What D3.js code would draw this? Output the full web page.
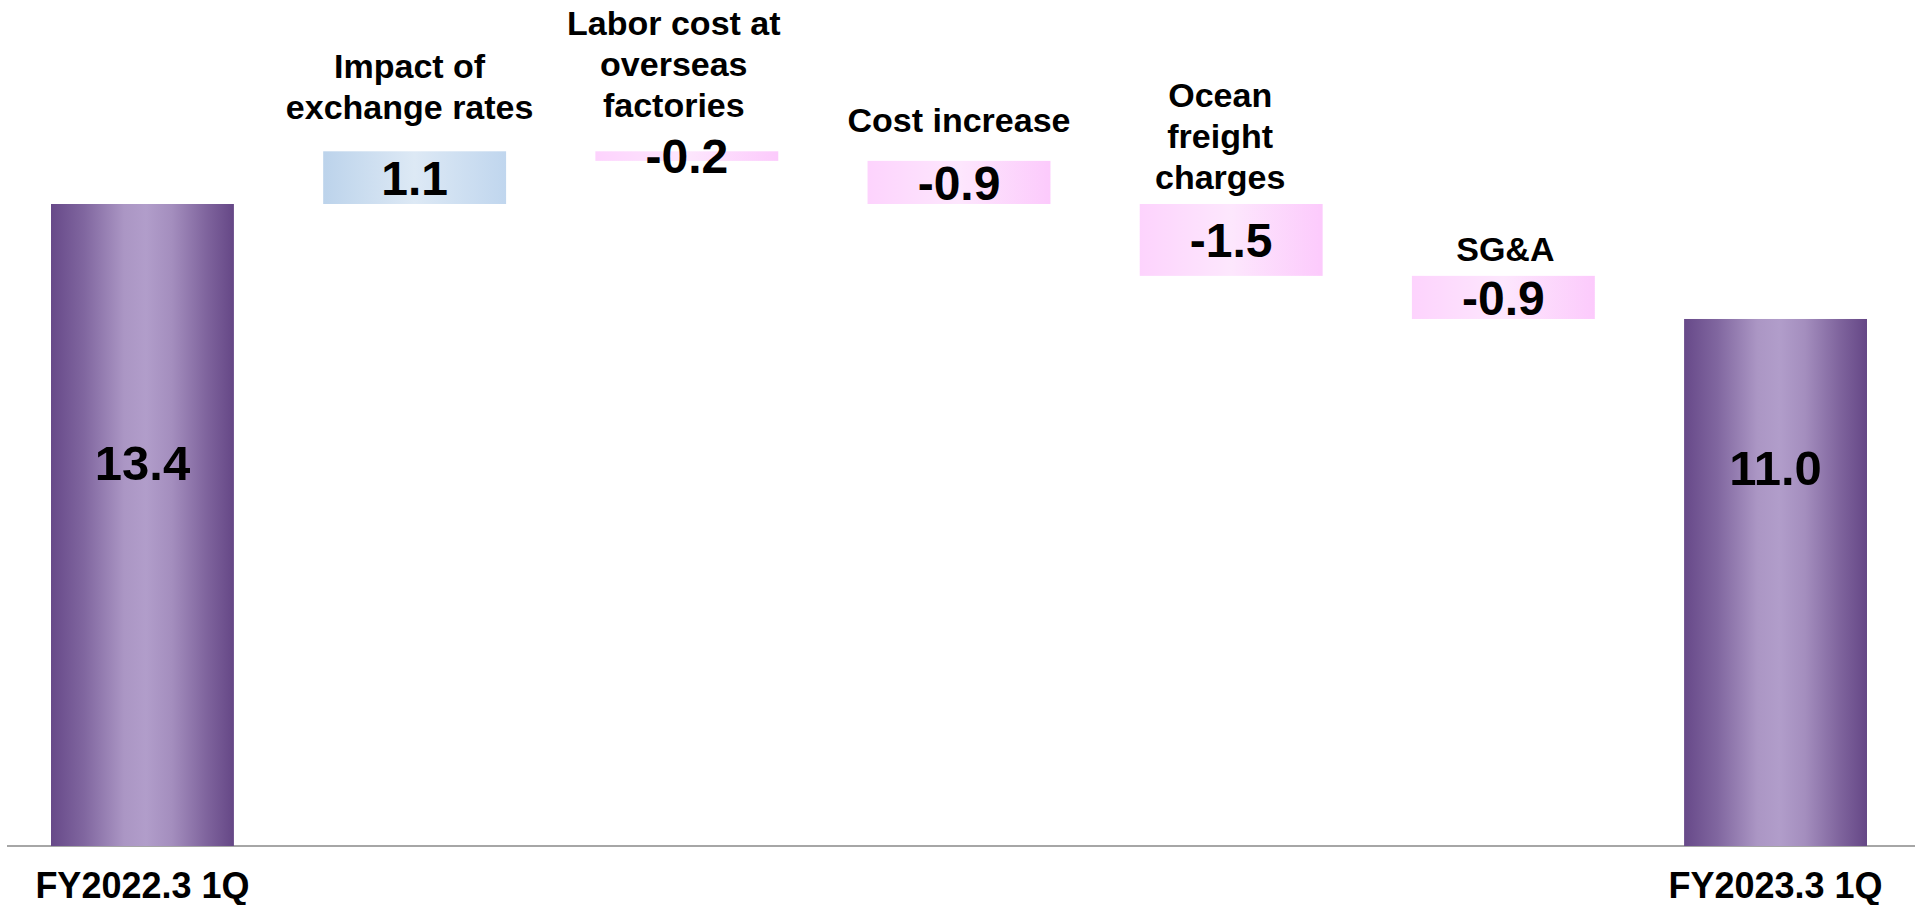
<!DOCTYPE html>
<html>
<head>
<meta charset="utf-8">
<script src="https://cdn.jsdelivr.net/npm/d3@7"></script>
<style>
  body { margin: 0; background: #fff; }
  svg { display: block; }
  text { font-family: "Liberation Sans", Arial, sans-serif; font-weight: bold; fill: #000; }
</style>
</head>
<body>
<svg id="chart" width="1915" height="905"></svg>
<script>
// data
var categories = ["FY2022.3 1Q", "Impact of exchange rates", "Labor cost at overseas factories",
                  "Cost increase", "Ocean freight charges", "SG&A", "FY2023.3 1Q"];
var labelLines = [["FY2022.3 1Q"], ["Impact of", "exchange rates"], ["Labor cost at", "overseas", "factories"],
                  ["Cost increase"], ["Ocean", "freight", "charges"], ["SG&A"], ["FY2023.3 1Q"]];
var values = [13.4, 1.1, -0.2, -0.9, -1.5, -0.9, 11.0];
var kinds = ["total", "step", "step", "step", "step", "step", "total"];
var valueLabels = ["13.4", "1.1", "-0.2", "-0.9", "-1.5", "-0.9", "11.0"];
var totalLabelAt = [8.0, 7.9];   // value level where the total's number sits

// layout
var baseY = 846, topY = 204;
var labelGap = [0, 44, 46, 40, 26, 26, 0];    // space between last label line and the bar top
var labelShift = [0, -5, -13, 0, -11, 2, 0];  // text boxes are not quite centred in the original
var lineStep = 41;

var svg = d3.select("#chart");
var defs = svg.append("defs");

function grad(id, stops) {
  var g = defs.append("linearGradient").attr("id", id)
    .attr("x1", "0%").attr("x2", "100%").attr("y1", "0%").attr("y2", "0%");
  stops.forEach(function (s) { g.append("stop").attr("offset", s[0]).attr("stop-color", s[1]); });
}
grad("gTotal", [["0%", "#674989"], ["18%", "#80669f"], ["40%", "#ab96c4"], ["52%", "#b19dca"], ["66%", "#a48ebe"], ["85%", "#7f649d"], ["100%", "#654786"]]);
grad("gUp", [["0%", "#bcd3eb"], ["50%", "#dde9f5"], ["100%", "#c0d6ee"]]);
grad("gDown", [["0%", "#fdd3fd"], ["50%", "#fde7fd"], ["100%", "#fccafc"]]);

var x = d3.scaleBand().domain(categories).range([51, 1867]).paddingInner(0.328).paddingOuter(0);
var y = d3.scaleLinear().domain([0, values[0]]).range([baseY, topY]);

// running totals for the waterfall
var run = 0;
var bars = categories.map(function (c, i) {
  var v = values[i], y0, y1;
  if (kinds[i] === "total") { y0 = 0; y1 = v; run = v; }
  else { y0 = run; y1 = run + v; run = y1; }
  return { cat: c, kind: kinds[i], lo: Math.min(y0, y1), hi: Math.max(y0, y1), v: v, label: valueLabels[i], lines: labelLines[i], i: i };
});

// axis line
svg.append("line")
  .attr("x1", 7).attr("x2", 1915).attr("y1", baseY).attr("y2", baseY)
  .attr("stroke", "#a6a6a6").attr("stroke-width", 2);

svg.append("g").selectAll("rect")
  .data(bars).enter().append("rect")
  .attr("x", d => x(d.cat))
  .attr("width", x.bandwidth())
  .attr("y", d => y(d.hi))
  .attr("height", d => y(d.lo) - y(d.hi))
  .attr("fill", d => d.kind === "total" ? "url(#gTotal)" : (d.v >= 0 ? "url(#gUp)" : "url(#gDown)"));

function label(t, cx, by, size) {
  return svg.append("text").text(t)
    .attr("x", cx).attr("y", by)
    .attr("text-anchor", "middle").style("font-size", size + "px");
}

// value labels
var totalIdx = 0;
bars.forEach(function (d) {
  var cx = x(d.cat) + x.bandwidth() / 2, cy, size;
  if (d.kind === "total") { cy = y(totalLabelAt[totalIdx++]); size = 49; }
  else { cy = (y(d.hi) + y(d.lo)) / 2; size = 48; }
  label(d.label, cx, cy + size * 0.358, size);
});

// step labels above the bars
bars.filter(d => d.kind === "step").forEach(function (d) {
  var cx = x(d.cat) + x.bandwidth() / 2 + labelShift[d.i];
  var n = d.lines.length;
  var lastCenter = y(d.hi) - labelGap[d.i];
  d.lines.forEach(function (t, k) {
    var cy = lastCenter - (n - 1 - k) * lineStep;
    label(t, cx, cy + 34 * 0.33, 34);
  });
});

// category labels under the totals
bars.filter(d => d.kind === "total").forEach(function (d) {
  var cx = x(d.cat) + x.bandwidth() / 2;
  label(d.lines[0], cx, 885 + 36 * 0.358, 36);
});
</script>
</body>
</html>
